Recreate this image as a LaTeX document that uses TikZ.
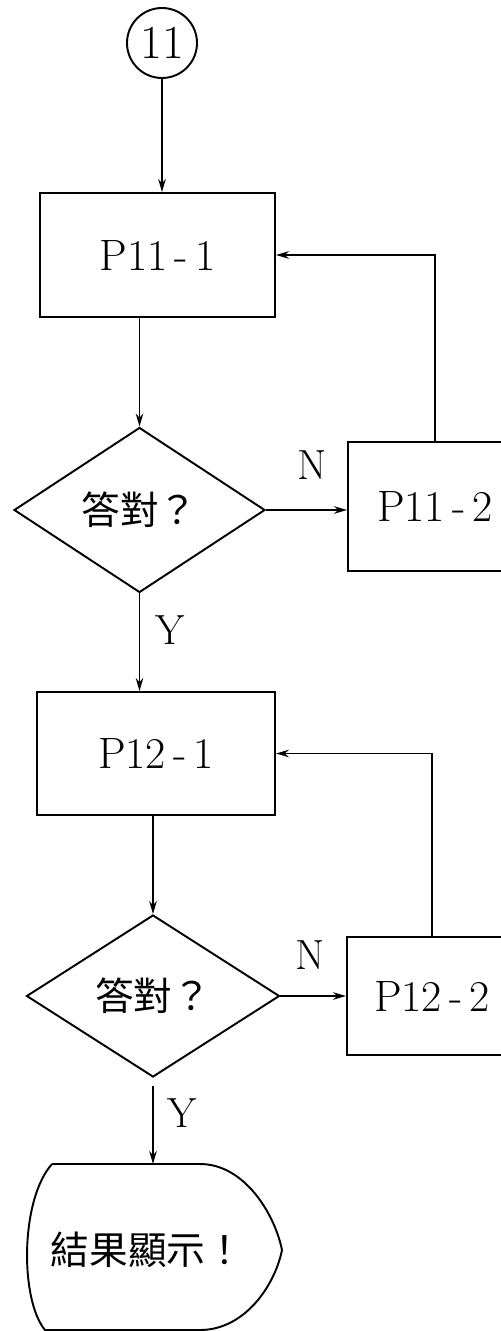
\documentclass[tikz,border=0pt]{standalone}
\usepackage{fontspec}
\newfontfamily\cjk{Noto Sans CJK TC}
\usetikzlibrary{arrows.meta,positioning,shapes.geometric,calc}

\begin{document}
\begin{tikzpicture}[>={Stealth[length=2.6mm,width=1.5mm]},line width=1.1pt,
  proc/.style={draw,rectangle,inner sep=0pt,minimum width=4.7cm,minimum height=2.48cm,
               font=\fontsize{25}{25}\selectfont},
  decision/.style={draw,diamond,inner sep=0pt,minimum width=5.02cm,minimum height=3.3cm,
               font=\cjk\fontsize{22}{22}\selectfont},
  conn/.style={draw,circle,inner sep=0pt,minimum size=1.4cm,font=\fontsize{27}{27}\selectfont},
  lbl/.style={font=\fontsize{24}{24}\selectfont}]
  \useasboundingbox (0,0) rectangle (10.02,-26.62);
  %% Connector
  \node[conn] (c11) at (3.24,-0.86) {11};
  %% First loop
  \node[proc] (p111) at (3.15,-5.10) {P11\,-\,1};
  \node[decision] (d1) at (2.79,-10.2) {答對？};
  \node[proc,minimum width=3.48cm,minimum height=2.58cm] (p112) at (8.7,-10.13) {P11\,-\,2};
  %% Second loop
  \node[proc,minimum width=4.76cm,minimum height=2.46cm] (p121) at (3.12,-15.07) {P12\,-\,1};
  \node[decision,minimum width=5.06cm,minimum height=3.24cm] (d2) at (3.06,-19.92) {答對？};
  \node[proc,minimum width=3.4cm,minimum height=2.36cm] (p122) at (8.64,-19.92) {P12\,-\,2};
  %% Display
  \node[font=\cjk\fontsize{22}{22}\selectfont] (disp) at (2.95,-25.0) {結果顯示！};
  \coordinate (dtop) at (3.06,-23.28);
  \draw (1.04,-23.28) -- (4.0,-23.28)
        .. controls (4.9,-23.28) and (5.5,-24.3) .. (5.64,-25.0)
        .. controls (5.5,-25.7) and (4.9,-26.6) .. (4.0,-26.6)
        -- (0.9,-26.6)
        .. controls (0.4,-26.0) and (0.4,-24.0) .. (1.04,-23.28);
  %% Arrows
  \draw[->] (c11.south) -- (c11.south |- p111.north);
  \draw[->] (d1.north |- p111.south) -- (d1.north);
  \draw[->] (d1.east) -- (d1.east -| p112.west);
  \draw[->] (p112.north) |- (p111.east);
  \draw[->] (d1.south) -- (d1.south |- p121.north);
  \draw[->] (d2.north |- p121.south) -- (d2.north);
  \draw[->] (d2.east) -- (d2.east -| p122.west);
  \draw[->] (p122.north) |- (p121.east);
  \draw[->,shorten <=0.16cm] (d2.south) -- (dtop);
  %% Branch labels
  \node[lbl] (n1) at (6.24,-9.3) {N};
  \node[lbl] (y1) at (3.4,-12.6) {Y};
  \node[lbl] (n2) at (6.2,-19.1) {N};
  \node[lbl] (y2) at (3.64,-22.26) {Y};
\end{tikzpicture}
\end{document}
